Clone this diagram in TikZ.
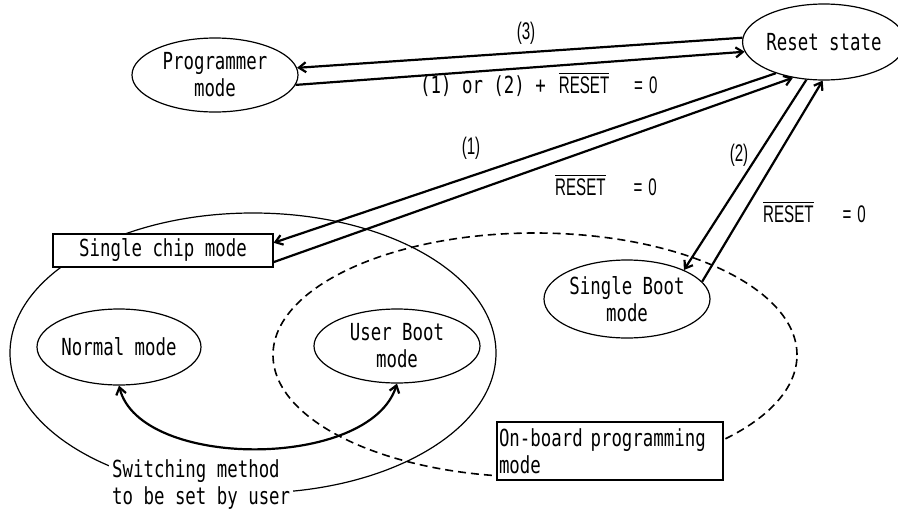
\documentclass[tikz,border=0pt]{standalone}
\usepackage{fontspec}
\usetikzlibrary{arrows.meta,shapes.geometric}
\newfontfamily\gothic[FakeStretch=0.74]{DejaVu Sans Mono}
\newfontfamily\narrowfont[FakeStretch=0.63]{Liberation Sans}
\newcommand\rstbar{\vbox{\hrule height 1pt\kern 2pt\hbox{\narrowfont\fontsize{24}{27}\selectfont RESET}}}
\newcommand\eqzero{{\narrowfont\fontsize{24}{27}\selectfont =\hspace{6pt}0}}

\begin{document}
\begin{tikzpicture}[x=1pt,y=-1pt,
  modenode/.style={draw,ellipse,fill=white,line width=1.2pt,align=center,inner sep=0pt,font=\gothic\fontsize{23.5}{27}\selectfont},
  modebox/.style={draw,rectangle,fill=white,line width=1.2pt,inner sep=2pt,font=\gothic\fontsize{23.5}{27}\selectfont},
  area/.style={draw,ellipse,inner sep=0pt},
  trans/.style={line width=2.2pt,-{Straight Barb[length=7pt,width=10pt]}},
  lbl/.style={inner sep=0pt,font=\gothic\fontsize{23.5}{27}\selectfont},
  num/.style={inner sep=0pt,font=\narrowfont\fontsize{24}{27}\selectfont}]
\useasboundingbox (0,0) rectangle (898,509);
% mode areas
\node[area,line width=1.2pt,minimum width=486pt,minimum height=280pt] (chiparea) at (253,353) {};
\node[area,line width=1.6pt,dash pattern=on 8pt off 5pt,minimum width=524pt,minimum height=244pt] (obparea) at (535,355) {};
% states
\node[modenode,minimum width=166pt,minimum height=74pt] (prog) at (215,75) {Programmer\\mode};
\node[modenode,minimum width=160pt,minimum height=76pt] (reset) at (824,42) {Reset state};
\node[modebox,minimum width=220pt,minimum height=33pt] (chip) at (163,250.5) {Single chip mode};
\node[modenode,minimum width=164pt,minimum height=76pt] (normal) at (119,347) {Normal mode};
\node[modenode,minimum width=166pt,minimum height=74pt] (uboot) at (397,346) {User Boot\\mode};
\node[modenode,minimum width=166pt,minimum height=78pt] (sboot) at (627,299) {Single Boot\\mode};
\node[modebox,text width=222pt,minimum height=58pt,align=left] (obp) at (610,451) {On-board programming\\mode};
\node[lbl,fill=white,inner sep=3pt,align=left,anchor=north west] (switch) at (109,456) {Switching method\\to be set by user};
% transitions
\draw[trans] (reset.177) -- (prog.5);
\draw[trans] (prog.353) -- (reset.187);
\draw[trans] (reset.213) -- (chip.4);
\draw[trans] (chip.354) -- (reset.229);
\draw[trans] (reset.245) -- (sboot.27);
\draw[trans] (sboot.13) -- (reset.268);
\draw[trans,{Straight Barb[length=7pt,width=10pt]}-{Straight Barb[length=7pt,width=10pt]}] (normal.south) .. controls (140,470) and (370,470) .. (uboot.south);
% conditions
\node[num] (condthree) at (526,33) {(3)};
\node[lbl,anchor=base west] (condprog) at (420,93) {(1) or (2) +\hspace{13pt}\rstbar\hspace{25pt}\eqzero};
\node[num] (condone) at (471,148) {(1)};
\node[lbl,anchor=base west] (rstone) at (555,195) {\rstbar\hspace{28pt}\eqzero};
\node[num] (condtwo) at (739,155) {(2)};
\node[lbl,anchor=base west] (rsttwo) at (763,222) {\rstbar\hspace{29pt}\eqzero};
\end{tikzpicture}
\end{document}
